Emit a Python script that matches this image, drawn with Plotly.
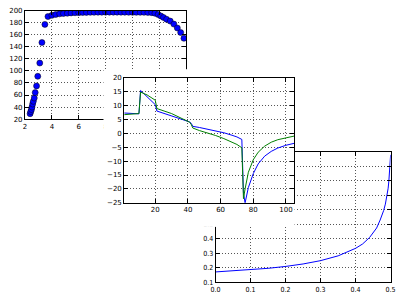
import plotly.graph_objects as go

# ---- Panel A: top-left scatter ----
scatter_x = [2.38, 2.43, 2.48, 2.52, 2.57, 2.62, 2.69, 2.76, 2.86, 2.95, 3.10, 3.26, 3.48, 3.71,
             4.00, 4.29, 4.58, 4.86, 5.15, 5.43, 5.72, 6.00, 6.29, 6.57, 6.86, 7.14, 7.43, 7.71,
             8.00, 8.28, 8.57, 8.85, 9.14, 9.42, 9.71, 10.00, 10.28, 10.57, 10.85, 11.14, 11.42,
             11.66, 11.90, 12.10, 12.30, 12.53, 12.80, 13.07, 13.33, 13.58, 13.82]
scatter_y = [29, 32.5, 36, 40, 45, 49.5, 55, 64, 75, 91, 113, 147, 177, 190,
             192, 193.5, 194.5, 195, 195.5, 196, 196.3, 196.5, 196.7, 196.9, 197, 197.1, 197.2, 197.2,
             197.3, 197.3, 197.3, 197.3, 197.2, 197.2, 197.1, 197.0, 197.0, 197.0, 197.0, 196.8, 196.5,
             195.5, 193.5, 191, 188.5, 185.5, 182.5, 177.5, 171, 163.5, 154]

# ---- Panel B: middle two lines ----
line_x = [1, 5, 10, 11, 15, 20, 21, 30, 41, 42, 43, 47, 50, 53, 57, 62, 67, 70, 73,
          74, 75, 76, 77, 80, 83, 87, 91, 95, 100, 105]
blue_y = [7.3, 7.2, 7.0, 15.4, 13.0, 10.3, 8.0, 6.3, 4.1, 3.6, 2.5, 2.1, 1.7, 1.3, 0.95, 0.2, -0.7, -1.3, -2.2,
          -21.5, -25.0, -22.5, -19.5, -14.5, -11.0, -8.2, -6.5, -5.3, -4.3, -3.6]
green_y = [6.7, 6.9, 7.1, 14.8, 13.8, 11.9, 8.9, 7.1, 4.0, 3.2, 1.9, 1.0, 0.5, -0.2, -0.8, -1.9, -3.2, -4.0, -5.2,
           -23.5, -20.0, -16.5, -14.0, -9.5, -6.8, -4.6, -3.2, -2.3, -1.6, -1.0]

# ---- Panel C: bottom-right curve ----
curve_x = [0.0, 0.05, 0.1, 0.15, 0.2, 0.25, 0.3, 0.35, 0.4, 0.42, 0.44, 0.45, 0.46, 0.47,
           0.475, 0.48, 0.485, 0.49, 0.493, 0.495, 0.497, 0.499, 0.5]
curve_y = [0.172, 0.18, 0.187, 0.197, 0.21, 0.227, 0.25, 0.283, 0.335, 0.365, 0.41, 0.44, 0.475, 0.53,
           0.56, 0.595, 0.64, 0.70, 0.75, 0.80, 0.86, 0.93, 0.98]

y_ticks_a = [20, 40, 60, 80, 100, 120, 140, 160, 180, 200]
x_ticks_a = [2, 4, 6, 8, 10, 12, 14]
y_ticks_b = [-25, -20, -15, -10, -5, 0, 5, 10, 15, 20]
x_ticks_b = [20, 40, 60, 80, 100]
x_ticks_c = [0.0, 0.1, 0.2, 0.3, 0.4, 0.5]
y_ticks_c = [0.1, 0.2, 0.3, 0.4, 0.5, 0.6, 0.7, 0.8, 0.9, 1.0]

fig = go.Figure()
# order matters for stacking: C (bottom), A, cover, B (top)
fig.add_trace(go.Scatter(x=curve_x, y=curve_y, mode='lines',
                         line=dict(color='#0000ff', width=1), xaxis='x', yaxis='y'))
fig.add_trace(go.Scatter(x=scatter_x, y=scatter_y, mode='markers',
                         marker=dict(color='#0000ff', size=6, line=dict(color='#000000', width=0.5)),
                         xaxis='x2', yaxis='y2'))
fig.add_trace(go.Scatter(x=[], y=[], xaxis='x3', yaxis='y3', hoverinfo='skip'))
fig.add_trace(go.Scatter(x=line_x, y=blue_y, mode='lines',
                         line=dict(color='#0000ff', width=1), xaxis='x4', yaxis='y4'))
fig.add_trace(go.Scatter(x=line_x, y=green_y, mode='lines',
                         line=dict(color='#008000', width=1), xaxis='x4', yaxis='y4'))


def ax(domain, rng, tickvals, anchor, fam='DejaVu Sans', fmt=None):
    d = dict(domain=domain, range=rng, tickvals=tickvals, anchor=anchor,
             showline=True, linecolor='black', linewidth=1, mirror='ticks',
             ticks='inside', ticklen=4, tickcolor='black', tickwidth=1,
             showgrid=True, gridcolor='#555555', gridwidth=1, griddash='1px,2px',
             zeroline=False, tickfont=dict(family=fam, size=7, color='black'))
    if fmt:
        d['tickformat'] = fmt
    return d


W, H = 400.0, 300.0
fig.update_layout(
    width=400, height=300, margin=dict(l=0, r=0, t=0, b=0),
    paper_bgcolor='white', plot_bgcolor='white', showlegend=False,
    # Panel C
    xaxis=ax([216 / W, 395.5 / W], [0, 0.5], x_ticks_c, 'y', 'DejaVu Sans Condensed', '.1f'),
    yaxis=ax([1 - 286 / H, 1 - 152 / H], [0.1, 1.0], y_ticks_c, 'x', 'DejaVu Sans Condensed', '.1f'),
    # Panel A
    xaxis2=ax([20.5 / W, 186 / W], [2, 14], x_ticks_a, 'y2'),
    yaxis2=ax([1 - 118.3 / H, 1 - 6.7 / H], [20, 200], y_ticks_a, 'x2'),
    # white cover behind panel B (its figure area)
    xaxis3=dict(domain=[101 / W, 297 / W], anchor='y3', visible=False),
    yaxis3=dict(domain=[1 - 229 / H, 1 - 67 / H], anchor='x3', visible=False),
    # Panel B
    xaxis4=ax([122.3 / W, 296.5 / W], [1, 105], x_ticks_b, 'y4'),
    yaxis4=ax([1 - 204.3 / H, 1 - 75.7 / H], [-25, 20], y_ticks_b, 'x4'),
)

fig.write_html("out.html")
